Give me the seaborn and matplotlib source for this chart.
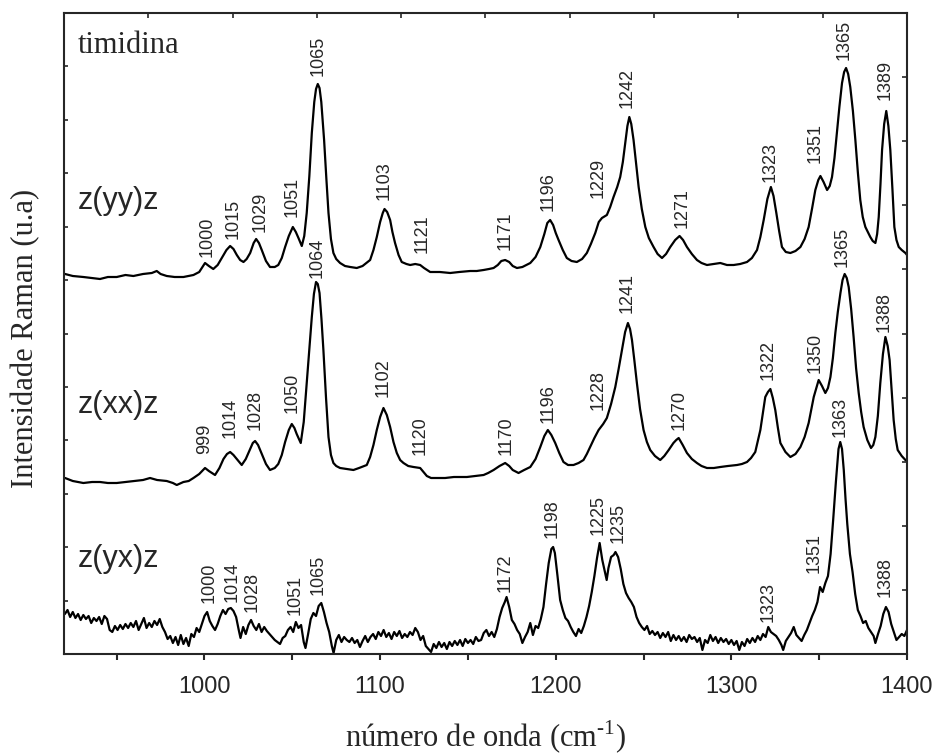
import numpy as np
import pandas as pd
import matplotlib
matplotlib.use("Agg")
import matplotlib.pyplot as plt
import seaborn as sns

# ---------------- data (wavenumber in cm^-1, intensity in arbitrary units, spectra already offset) -------------
yy_x = [920.6, 925, 931, 936, 940.5, 945, 950, 955, 959.5, 965, 970, 972.8, 975, 978.5, 983, 988, 993.7, 997,
        1000.3, 1002.5, 1005, 1007.5, 1009.8, 1012.5, 1014.6, 1016.5, 1018.4, 1020.3, 1022.2, 1024, 1026, 1028,
        1029.4, 1031, 1032.6, 1035, 1037.3, 1040, 1042, 1044, 1045.9, 1048, 1050.3, 1052, 1053.5, 1055.4, 1056.8,
        1058.2, 1059.7, 1061.1, 1062.5, 1063.5, 1064.5, 1065.5, 1066.5, 1068.1, 1069.4, 1070.6, 1072, 1073.4,
        1075, 1077.2, 1080, 1083, 1086.7, 1090, 1094.3, 1096.2, 1098.1, 1100, 1101.5, 1102.5, 1104, 1105.7, 1107,
        1108.5, 1110.5, 1112.3, 1115, 1117.1, 1120, 1122.8, 1125, 1128.5, 1134, 1139.9, 1145, 1151.3, 1155,
        1158.9, 1162, 1164.6, 1167, 1169, 1171.2, 1173.5, 1175.5, 1177.9, 1181, 1185.5, 1188.5, 1191.2, 1193.5,
        1195.2, 1196.8, 1198.5, 1200, 1201.6, 1204, 1206.3, 1209, 1212, 1215, 1217.7, 1220, 1222.5, 1224.5,
        1226.3, 1229.1, 1231, 1232.9, 1235, 1236.7, 1238.2, 1239.6, 1240.8, 1241.9, 1243, 1244.3, 1245.8, 1247.2,
        1249, 1251, 1253, 1255.7, 1258, 1260.5, 1262.8, 1265.2, 1268, 1270.5, 1272.5, 1274.7, 1277.5, 1280.4,
        1283, 1286.1, 1290, 1293.7, 1297.5, 1301.3, 1305, 1308.9, 1311.7, 1314.6, 1316.5, 1318.4, 1320.5, 1322.5,
        1324, 1325.6, 1327.2, 1328.8, 1331, 1333.6, 1336.5, 1339.3, 1341.7, 1344, 1346, 1347.8, 1349.5, 1350.7,
        1352.5, 1354.5, 1356, 1357.3, 1358.7, 1360.1, 1361.5, 1363, 1364.2, 1365.3, 1366.5, 1367.7, 1369.2,
        1370.6, 1372, 1373.4, 1374.8, 1376.3, 1377.7, 1379.1, 1380.5, 1382, 1383, 1383.9, 1384.9, 1385.8, 1387,
        1388.2, 1389.4, 1390.5, 1391.7, 1392.8, 1394, 1395.3, 1397, 1399.1, 1400]
yy_h = [380, 378, 377, 376, 375, 377, 377, 379, 378, 380, 381, 383, 380, 378, 377, 377, 379, 382,
        391, 388, 385, 389, 396, 404, 408, 405, 399, 394, 392, 395, 401, 411,
        415, 411, 404, 393, 387, 387, 389, 396, 407, 418, 427, 422, 416, 408, 418,
        441, 478, 521, 552, 565, 570, 566, 552, 514, 475, 441, 415, 401,
        395, 391, 388, 387, 386, 388, 394, 404, 417, 432, 441, 445, 442, 434, 422,
        411, 399, 392, 390, 389, 390, 389, 386, 382, 382, 381, 382, 383, 383,
        384, 385, 386, 389, 393, 394, 392, 388, 386, 387, 391, 397, 407, 420,
        431, 434, 429, 421, 414, 404, 396, 393, 392, 395, 401, 410, 421, 432,
        436, 439, 447, 457, 467, 477, 492, 511, 528, 537, 530, 514, 490, 467,
        445, 427, 416, 407, 400, 396, 400, 407, 414, 418, 414, 407, 400, 394,
        391, 389, 390, 391, 389, 389, 390, 392, 396, 404, 417, 434, 455, 467,
        458, 441, 423, 407, 402, 401, 403, 407, 415, 427, 446, 464, 474, 478,
        472, 464, 468, 477, 496, 521, 547, 571, 582, 586, 580, 567, 543,
        514, 482, 454, 437, 427, 422, 417, 413, 411, 420, 437, 470, 504, 530,
        543, 528, 504, 465, 427, 414, 407, 404, 401, 399]

xx_x = [920.6, 925, 931, 936, 940.5, 945, 950, 955, 959.5, 965, 969, 973, 978.5, 982, 984.2, 988, 991, 993.7,
        997, 1000.3, 1002.5, 1006, 1008.5, 1010.8, 1012.8, 1014.6, 1016.5, 1018.4, 1021.2, 1023.5, 1026, 1027.5,
        1028.8, 1030.5, 1032.6, 1035, 1037.3, 1040, 1042, 1044, 1045.9, 1048, 1049.7, 1051.2, 1052.5, 1054.8,
        1056.5, 1058.2, 1059.7, 1061.1, 1062.3, 1063.5, 1064.5, 1065.5, 1066.6, 1067.7, 1069.2, 1070.6, 1072,
        1073.4, 1075, 1077.2, 1081, 1084.8, 1088, 1092.4, 1094.3, 1096.2, 1098.1, 1100, 1101.9, 1103.8, 1105.7,
        1107.6, 1109.5, 1111.4, 1113.3, 1116, 1119, 1122.8, 1124.7, 1126.6, 1129, 1132.3, 1137, 1142, 1149.4,
        1154, 1158.9, 1161.5, 1164.6, 1168, 1171.2, 1173.5, 1175.5, 1178.8, 1182, 1185.5, 1188.5, 1191.2,
        1193.5, 1195.5, 1197.5, 1199.7, 1202, 1204.4, 1207, 1210.1, 1213, 1215.8, 1217.7, 1219.6, 1222, 1224.4,
        1227, 1229.1, 1231.5, 1233.9, 1235.8, 1237.7, 1239.5, 1241.1, 1242.3, 1243.4, 1244.8, 1246.2, 1248,
        1250, 1251.9, 1253.8, 1256.5, 1259.5, 1261.8, 1264.3, 1267, 1268.6, 1270, 1272.3, 1274.7, 1277.5,
        1280.4, 1283, 1286.1, 1290, 1293.7, 1298, 1303.2, 1306, 1308.9, 1311.2, 1313.6, 1316.5, 1319.3, 1320.8,
        1322.2, 1323.6, 1325, 1326.5, 1327.9, 1330.8, 1333.6, 1336.5, 1339.3, 1341.7, 1344, 1346.9, 1349.7,
        1351.6, 1353.5, 1355, 1356.4, 1357.8, 1359.2, 1360.6, 1362.1, 1363.3, 1364.5, 1365.7, 1366.8, 1368.2,
        1369.6, 1371, 1372.5, 1373.9, 1375.3, 1377.4, 1379.5, 1380.8, 1382, 1383.4, 1384.8, 1386.3, 1387.7,
        1389, 1390.1, 1391.3, 1392.4, 1393.6, 1394.7, 1397, 1399.1, 1400]
xx_h = [176, 173, 171, 172, 172, 171, 171, 172, 173, 174, 176, 174, 173, 171, 169, 172, 173, 176,
        180, 186, 183, 179, 186, 195, 200, 202, 199, 195, 189, 195, 205, 211,
        213, 209, 200, 190, 184, 186, 190, 199, 212, 224, 230, 226, 220, 211,
        232, 271, 305, 337, 360, 372, 370, 361, 335, 304, 256, 217, 199,
        191, 188, 186, 185, 184, 186, 189, 197, 209, 224, 237, 246, 239, 227,
        212, 201, 194, 191, 188, 187, 186, 182, 178, 176, 176, 176, 177, 177,
        178, 179, 181, 184, 188, 191, 188, 184, 181, 184, 187, 195, 207,
        218, 224, 219, 211, 201, 192, 189, 189, 191, 194, 200, 207, 216, 224,
        230, 236, 250, 267, 285, 304, 322, 331, 325, 314, 293, 271, 245,
        224, 212, 204, 198, 194, 198, 204, 211, 214, 216, 209, 201, 195,
        191, 188, 186, 186, 187, 188, 189, 190, 192, 196, 202, 224, 257, 262,
        265, 256, 244, 226, 211, 202, 197, 200, 207, 217, 231, 257, 274,
        268, 261, 266, 277, 296, 321, 342, 361, 374, 380, 376, 367, 345,
        317, 286, 261, 242, 227, 214, 206, 209, 217, 238, 271, 300, 317,
        308, 294, 262, 234, 215, 204, 198, 194, 193]

yx_x = [920.5, 922, 923.5, 925, 926.5, 928, 929.5, 931, 932.5, 934, 935.5, 937, 938.5, 940, 941.5, 943, 944.5,
        946, 947.5, 949, 950.5, 952, 953.5, 955, 956.5, 958, 959.5, 961, 962.5, 964, 965.5, 967, 968.5, 970,
        971.5, 973, 974.5, 976, 977.5, 979, 980.5, 982, 983.5, 985, 986.5, 988, 989.5, 991, 992.5, 994, 995.5,
        997, 998.5, 1000, 1001.5, 1003, 1004.5, 1006, 1007.5, 1009, 1010.5, 1012, 1013.5, 1015, 1016.5, 1018,
        1019.5, 1020.5, 1022, 1023.5, 1025, 1026.5, 1028, 1029.5, 1031, 1032.5, 1034, 1035.5, 1037, 1038.5,
        1040, 1041.5, 1043, 1044.5, 1046, 1047.5, 1049, 1050.5, 1052, 1053.5, 1055, 1056.5, 1057.5, 1059,
        1060.5, 1062, 1063.5, 1065, 1066.5, 1068, 1069.5, 1071, 1072.5, 1073.5, 1075, 1076.5, 1078, 1079.5,
        1081, 1082.5, 1084, 1085.5, 1087, 1088.5, 1090, 1091.5, 1093, 1094.5, 1096, 1097.5, 1099, 1100.5,
        1102, 1103.5, 1105, 1106.5, 1108, 1109.5, 1111, 1112.5, 1114, 1115.5, 1117, 1118.5, 1120, 1121.5,
        1123, 1124.5, 1126, 1127.5, 1129, 1130.5, 1132, 1133.5, 1135, 1136.5, 1138, 1139.5, 1141, 1142.5,
        1144, 1145.5, 1147, 1148.5, 1150, 1151.5, 1153, 1154.5, 1156, 1157.5, 1159, 1160.5, 1162, 1163.5,
        1165, 1166.5, 1168, 1169.5, 1171, 1172, 1173.5, 1175, 1176.5, 1178, 1179.5, 1181, 1182.5, 1184,
        1185.5, 1187, 1188.5, 1190, 1191.5, 1193, 1194.5, 1196, 1197.5, 1198.5, 1199.5, 1201, 1202.5, 1204,
        1205.5, 1207, 1208.5, 1210, 1211.5, 1213, 1214.5, 1216, 1217.5, 1219, 1220.5, 1222, 1223.5, 1225,
        1226.5, 1228, 1229, 1230, 1231.5, 1233, 1234, 1235.5, 1237, 1238.5, 1240, 1241.5, 1243, 1244.5, 1246,
        1247.5, 1249, 1250.5, 1252, 1253.5, 1255, 1256.5, 1258, 1259.5, 1261, 1262.5, 1264, 1265.5, 1267,
        1268.5, 1270, 1271.5, 1273, 1274.5, 1276, 1277.5, 1279, 1280.5, 1282, 1283.5, 1285, 1286.5, 1288,
        1289.5, 1291, 1292.5, 1294, 1295.5, 1297, 1298.5, 1300, 1301.5, 1303, 1304.5, 1306, 1307.5, 1309,
        1310.5, 1312, 1313.5, 1315, 1316.5, 1318, 1319.5, 1321, 1322.5, 1324, 1325.5, 1327, 1328.5, 1329.5,
        1331, 1332.5, 1334, 1335.5, 1337, 1338.5, 1340, 1341.5, 1343, 1344.5, 1346, 1347.5, 1349, 1350.5,
        1352, 1353.5, 1355, 1356.5, 1358, 1359.5, 1361, 1362, 1363, 1364, 1365, 1366, 1367.5, 1369, 1370.5,
        1372, 1373.5, 1375, 1376.5, 1378, 1379.5, 1381, 1382, 1383.5, 1385, 1386.5, 1388, 1389.5, 1391,
        1392.5, 1394, 1395.5, 1397, 1398.5, 1400]
yx_h = [40, 44, 37, 42, 36, 40, 34, 39, 35, 38, 31, 36, 33, 37, 30, 38, 35,
        24, 22, 28, 24, 29, 25, 30, 26, 31, 27, 33, 24, 30, 36, 26, 31, 27,
        33, 29, 35, 27, 22, 15, 18, 11, 17, 9, 19, 10, 16, 8, 20, 17, 26,
        22, 30, 38, 42, 33, 28, 24, 30, 38, 44, 40, 45, 46, 43, 37,
        24, 16, 27, 20, 29, 34, 28, 24, 30, 22, 27, 23, 20, 17,
        14, 12, 10, 16, 18, 24, 27, 22, 32, 26, 29, 12, 6, 20,
        35, 41, 38, 48, 51, 42, 31, 22, 8, 1, 14, 19, 12, 17,
        14, 12, 16, 11, 14, 7, 13, 18, 12, 17, 20, 15, 22, 18,
        24, 17, 21, 15, 22, 18, 23, 16, 20, 17, 22, 19, 26, 22,
        14, 18, 8, 5, 2, 10, 6, 12, 7, 11, 5, 12, 8, 13,
        9, 14, 8, 15, 11, 14, 10, 17, 13, 14, 21, 24, 18, 22,
        17, 25, 37, 46, 52, 57, 47, 34, 30, 24, 20, 11, 17, 22,
        31, 19, 28, 26, 35, 47, 70, 91, 105, 107, 101, 78, 54, 44,
        36, 33, 27, 22, 18, 25, 21, 28, 37, 48, 62, 78, 96, 111,
        94, 82, 74, 86, 97, 99, 102, 97, 85, 70, 61, 56, 52, 47, 37,
        31, 27, 24, 28, 20, 23, 19, 22, 16, 21, 17, 22, 13, 19,
        14, 18, 13, 17, 12, 19, 15, 17, 12, 16, 4, 14, 11, 19,
        13, 17, 11, 16, 12, 15, 10, 14, 9, 13, 4, 12, 8, 15,
        11, 16, 12, 18, 14, 20, 17, 27, 22, 20, 18, 14, 9, 4,
        13, 17, 21, 27, 19, 16, 13, 19, 24, 31, 38, 44, 52, 67,
        62, 71, 78, 100, 135, 172, 205, 212, 205, 184, 155, 130, 100, 82, 60,
        44, 38, 31, 33, 26, 22, 18, 11, 20, 28, 40, 47, 42, 30,
        22, 14, 17, 20, 18, 24]

# peak annotations (text, x, bottom of the text)
yy_lbl = ["1000", "1015", "1029", "1051", "1065", "1103", "1121", "1171", "1196", "1229", "1242", "1271",
          "1323", "1351", "1365", "1389"]
yy_lbl_x = [1001.3, 1016.1, 1031.6, 1049.7, 1064.9, 1102.5, 1123.7, 1171.2, 1195.9, 1224.4, 1240.5, 1271.9,
            1321.8, 1347.8, 1364.0, 1387.7]
yy_lbl_h = [397, 415, 422, 437, 578, 454, 401, 404, 443, 456, 546, 426, 472, 491, 594, 554]

xx_lbl = ["999", "1014", "1028", "1050", "1064", "1102", "1120", "1170", "1196", "1228", "1241", "1270",
          "1322", "1350", "1365", "1388"]
xx_lbl_x = [1000.3, 1014.6, 1028.8, 1049.7, 1063.9, 1101.9, 1122.8, 1171.8, 1195.9, 1224.4, 1240.5, 1270.3,
            1321.2, 1347.8, 1363.0, 1386.7]
xx_lbl_h = [200, 216, 224, 241, 376, 257, 199, 199, 231, 244, 341, 224, 274, 281, 387, 322]

yx_lbl = ["1000", "1014", "1028", "1051", "1065", "1172", "1198", "1225", "1235", "1323", "1351", "1363", "1388"]
yx_lbl_x = [1002.8, 1015.5, 1026.9, 1051.6, 1064.9, 1171.2, 1197.8, 1224.4, 1235.8, 1321.2, 1346.9, 1362.0,
            1387.7]
yx_lbl_h = [51, 52, 42, 39, 59, 62, 116, 119, 111, 32, 81, 217, 57]

trace_names = ["z(yy)z", "z(xx)z", "z(yx)z"]
trace_name_h = [445, 241, 87]
title_text = "timidina"

# ---------------- figure ----------------
sns.set_style("ticks")
plt.rcParams["font.family"] = ["Liberation Sans", "DejaVu Sans"]
plt.rcParams["mathtext.fontset"] = "custom"
plt.rcParams["mathtext.rm"] = "Liberation Serif"
plt.rcParams["axes.linewidth"] = 1.5

W, H = 935, 755
fig = plt.figure(figsize=(W / 100, H / 100), dpi=100)
L, R, T, B = 64, 907, 13, 654
ax = fig.add_axes([L / W, (H - B) / H, (R - L) / W, (B - T) / H])

frames = []
for name, xs, hs in zip(trace_names, [yy_x, xx_x, yx_x], [yy_h, xx_h, yx_h]):
    frames.append(pd.DataFrame({"x": xs, "h": hs, "trace": name}))
df = pd.concat(frames, ignore_index=True)

sns.lineplot(data=df, x="x", y="h", units="trace", estimator=None, sort=False,
             color="black", linewidth=1.6, ax=ax, legend=False)

XMIN, XMAX, YMAX = 920, 1400, 641
ax.set_xlim(XMIN, XMAX)
ax.set_ylim(0, YMAX)

# bottom axis
ax.set_xticks(np.arange(1000, 1401, 100))
ax.set_xticks(np.arange(950, 1400, 100), minor=True)
ax.tick_params(axis="x", which="both", direction="out", length=4.5, width=1.5, pad=11,
               labelsize=17, top=False)
# left axis
ax.set_yticks(np.linspace(0, YMAX, 13))
ax.tick_params(axis="y", which="both", direction="in", length=3, width=1.2, labelleft=False, right=False)
ax.set_xlabel("")
ax.set_ylabel("")
for s in ax.spines.values():
    s.set_visible(True)
    s.set_linewidth(1.5)

# top & right tick frames
axr = ax.twinx()
axr.set_ylim(0, YMAX)
axr.set_yticks(np.linspace(0, YMAX, 11))
axr.tick_params(axis="y", direction="in", length=3.5, width=1.2, labelright=False)
axt = ax.twiny()
axt.set_xlim(XMIN, XMAX)
axt.set_xticks(np.linspace(XMIN, XMAX, 11))
axt.tick_params(axis="x", direction="in", length=3.5, width=1.2, labeltop=False)
for a in (axr, axt):
    for s in a.spines.values():
        s.set_visible(False)

# peak labels
for labels, xs, hs in [(yy_lbl, yy_lbl_x, yy_lbl_h), (xx_lbl, xx_lbl_x, xx_lbl_h), (yx_lbl, yx_lbl_x, yx_lbl_h)]:
    for t, x, h in zip(labels, xs, hs):
        ax.text(x, h, t, rotation=90, ha="center", va="bottom", fontsize=13,
                family=["Liberation Sans", "DejaVu Sans"])

# sample labels
for name, h in zip(trace_names, trace_name_h):
    ax.text(928, h, name, ha="left", va="baseline", fontsize=22, family=["Liberation Sans", "DejaVu Sans"])
ax.text(928, 601, title_text, ha="left", va="baseline", fontsize=22, family=["Liberation Serif", "DejaVu Serif"])

# axis titles
fig.text(26 / W, 1 - 338 / H, "Intensidade Raman (u.a)", rotation=90, ha="center", va="center",
         fontsize=22, family=["Liberation Serif", "DejaVu Serif"])
fig.text((L + R) / 2 / W, 1 - 747 / H, "número de onda (cm$^{\\text{-}1}$)", ha="center", va="baseline",
         fontsize=22, family=["Liberation Serif", "DejaVu Serif"])

fig.savefig("out.png", dpi=100)
